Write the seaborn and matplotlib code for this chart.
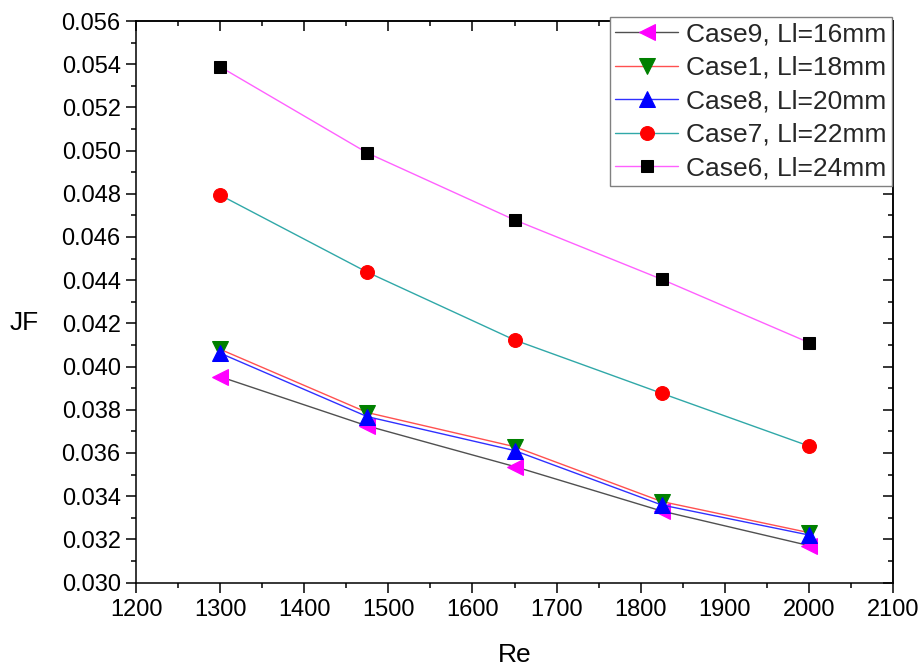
import matplotlib
matplotlib.use("Agg")
import matplotlib.pyplot as plt
import seaborn as sns
import numpy as np
from matplotlib.ticker import MultipleLocator

sns.set_theme(style="white")
plt.rcParams['font.family'] = ['Liberation Sans', 'DejaVu Sans']

# Data
re_values = [1300, 1475, 1650, 1825, 2000]
labels = ["Case9, Ll=16mm", "Case1, Ll=18mm", "Case8, Ll=20mm", "Case7, Ll=22mm", "Case6, Ll=24mm"]
case9 = [0.03953, 0.03725, 0.03537, 0.03331, 0.03171]
case1 = [0.04080, 0.03787, 0.03629, 0.03375, 0.03231]
case8 = [0.04062, 0.03768, 0.03611, 0.03359, 0.03220]
case7 = [0.04794, 0.04437, 0.04123, 0.03876, 0.03632]
case6 = [0.05388, 0.04989, 0.04679, 0.04404, 0.04111]

series = [case9, case1, case8, case7, case6]
line_colors = ["#505050", "#FF5050", "#3030FF", "#30A8A8", "#FF60FF"]
marker_colors = ["#FF00FF", "#008000", "#0000FF", "#FF0000", "#000000"]
markers = ["<", "v", "^", "o", "s"]
msizes = [11, 11, 11, 10, 9]

fig = plt.figure(figsize=(9.21, 6.67), dpi=100)
ax = fig.add_axes([136/921, 1-582.5/667, (893-136)/921, (582.5-21)/667])

for vals, lab, lc, mc, mk, ms in zip(series, labels, line_colors, marker_colors, markers, msizes):
    sns.lineplot(x=re_values, y=vals, ax=ax, color=lc, linewidth=1.0, marker=mk,
                 markersize=ms, markerfacecolor=mc, markeredgecolor=mc, label=lab)

ax.set_xlim(1200, 2100)
ax.set_ylim(0.030, 0.056)
ax.xaxis.set_major_locator(MultipleLocator(100))
ax.xaxis.set_minor_locator(MultipleLocator(50))
ax.yaxis.set_major_locator(MultipleLocator(0.002))
ax.yaxis.set_minor_locator(MultipleLocator(0.001))
ax.yaxis.set_major_formatter(matplotlib.ticker.FormatStrFormatter('%.3f'))

ax.tick_params(which='major', direction='out', length=7, width=1.1, labelsize=17,
               color='black', labelcolor='black', bottom=True, left=True, pad=4)
ax.tick_params(axis='x', which='major', pad=5)
ax.tick_params(which='minor', direction='out', length=3.6, width=1.1, color='black',
               bottom=True, left=True)
for s in ax.spines.values():
    s.set_color('black')
    s.set_linewidth(1.1)

# mirrored inward ticks on top/right
top = ax.secondary_xaxis('top')
top.xaxis.set_major_locator(MultipleLocator(100))
top.xaxis.set_minor_locator(MultipleLocator(50))
top.tick_params(which='major', direction='in', length=7, width=1.1, labeltop=False, color='black')
top.tick_params(which='minor', direction='in', length=3.6, width=1.1, color='black')
right = ax.secondary_yaxis('right')
right.yaxis.set_major_locator(MultipleLocator(0.002))
right.yaxis.set_minor_locator(MultipleLocator(0.001))
right.tick_params(which='major', direction='in', length=7, width=1.1, labelright=False, color='black')
right.tick_params(which='minor', direction='in', length=3.6, width=1.1, color='black')
for sa in (top, right):
    for s in sa.spines.values():
        s.set_linewidth(1.1)
        s.set_color('black')

ax.set_xlabel("Re", fontsize=19, color='black', labelpad=16)
ax.set_ylabel("JF", fontsize=19, color='black', rotation=0, va='center', ha='center')
ax.yaxis.set_label_coords(-0.148, 0.4615)

leg = ax.legend(loc='upper right', bbox_to_anchor=(892/921, 1-17/667),
                bbox_transform=fig.transFigure, borderaxespad=0, fontsize=19,
                frameon=True, fancybox=False, edgecolor='#808080', framealpha=1,
                handlelength=2.4, handletextpad=0.3, labelspacing=0.36,
                borderpad=0.2)
leg.get_frame().set_linewidth(1.0)
leg.set_zorder(10)

fig.savefig("out.png", dpi=100)
